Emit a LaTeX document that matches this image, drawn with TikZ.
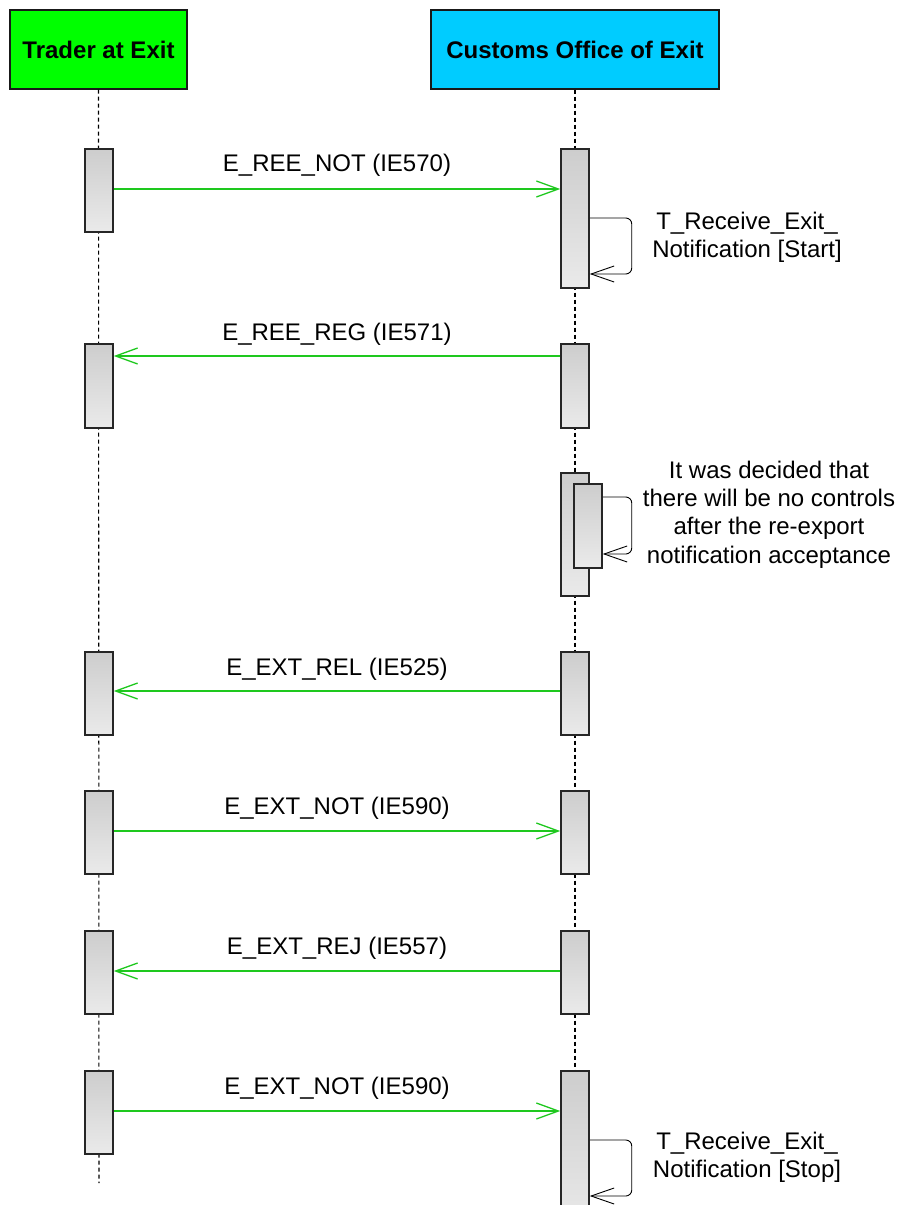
\documentclass[tikz,border=0pt]{standalone}
\usepackage{fontspec}
\setmainfont{Liberation Sans}
\usetikzlibrary{arrows.meta,calc}
\definecolor{msggreen}{RGB}{30,200,30}
\definecolor{hdrgreen}{RGB}{0,255,0}
\definecolor{hdrcyan}{RGB}{0,204,255}
\definecolor{bartop}{RGB}{205,205,205}
\definecolor{barbot}{RGB}{234,234,234}
\begin{document}
\begin{tikzpicture}[x=1pt,y=-1pt,
  hdr/.style={draw=black!90, line width=1.2pt, minimum height=79pt, inner sep=0pt,
    font=\fontsize{24}{28}\selectfont\bfseries},
  actbar/.style={draw=black!85, line width=1.5pt, top color=bartop, bottom color=barbot,
    minimum width=28pt, inner sep=0pt, anchor=north},
  life/.style={draw=black, line width=1.1pt, dash pattern=on 4pt off 3pt},
  msg/.style={draw=msggreen, line width=1.3pt,
    -{Straight Barb[length=22pt,width=16pt,line width=1.3pt]}},
  lbl/.style={font=\fontsize{24}{28}\selectfont, inner sep=0pt},
  note/.style={font=\fontsize{24}{28.3}\selectfont, inner sep=0pt, align=center},
  selfloop/.style={draw=black, line width=0.9pt, rounded corners=6pt,
    -{Straight Barb[length=23pt,width=16pt,line width=0.9pt]}}
]
\useasboundingbox (0,0) rectangle (901,1205);

% headers
\node[hdr, fill=hdrgreen, minimum width=177pt] (trader) at (98.5,49.5) {Trader at Exit};
\node[hdr, fill=hdrcyan, minimum width=288pt] (customs) at (575,49.5) {Customs Office of Exit};

% lifelines
\coordinate (tend) at (99,1183);
\coordinate (cend) at (575,1205);
\draw[life] (trader.south) -- (tend);
\draw[life] (customs.south) -- (cend);

% activation bars
\node[actbar, minimum height=83pt]  (t1) at (99,148) {};
\node[actbar, minimum height=139pt] (c1) at (575,148) {};
\node[actbar, minimum height=84pt]  (t2) at (99,343) {};
\node[actbar, minimum height=84pt]  (c2) at (575,343) {};
\node[actbar, minimum height=123pt] (c3) at (575,472) {};
\node[actbar, minimum height=84pt]  (c3b) at (588,483) {};
\node[actbar, minimum height=83pt]  (t4) at (99,651) {};
\node[actbar, minimum height=83pt]  (c4) at (575,651) {};
\node[actbar, minimum height=83pt]  (t5) at (99,790) {};
\node[actbar, minimum height=83pt]  (c5) at (575,790) {};
\node[actbar, minimum height=83pt]  (t6) at (99,930) {};
\node[actbar, minimum height=83pt]  (c6) at (575,930) {};
\node[actbar, minimum height=83pt]  (t7) at (99,1070) {};
\node[actbar, minimum height=160pt] (c7) at (575,1070) {};

% messages
\draw[msg] ([yshift=-41pt]t1.north east) -- ([yshift=-41pt]c1.north west)
  node[midway, lbl, yshift=23.5pt] {E\_REE\_NOT (IE570)};
\draw[msg] ([yshift=-13pt]c2.north west) -- ([yshift=-13pt]t2.north east)
  node[midway, lbl, yshift=22pt] {E\_REE\_REG (IE571)};
\draw[msg] ([yshift=-40pt]c4.north west) -- ([yshift=-40pt]t4.north east)
  node[midway, lbl, yshift=22pt] {E\_EXT\_REL (IE525)};
\draw[msg] ([yshift=-41pt]t5.north east) -- ([yshift=-41pt]c5.north west)
  node[midway, lbl, yshift=22.5pt] {E\_EXT\_NOT (IE590)};
\draw[msg] ([yshift=-41pt]c6.north west) -- ([yshift=-41pt]t6.north east)
  node[midway, lbl, yshift=22.5pt] {E\_EXT\_REJ (IE557)};
\draw[msg] ([yshift=-41pt]t7.north east) -- ([yshift=-41pt]c7.north west)
  node[midway, lbl, yshift=22.5pt] {E\_EXT\_NOT (IE590)};

% self messages
\draw[selfloop] ([yshift=-70pt]c1.north east) -- ++(42,0) -- ++(0,56) -- ++(-42,0);
\node[note] (n1) at (747,237) {T\_Receive\_Exit\_\\Notification [Start]};

\draw[selfloop] ([yshift=-14pt]c3b.north east) -- ++(29,0) -- ++(0,57) -- ++(-29,0);
\node[note] (n3) at (769,514.5) {It was decided that\\there will be no controls\\after the re-export\\notification acceptance};

\draw[selfloop] ([yshift=-70pt]c7.north east) -- ++(42,0) -- ++(0,56) -- ++(-42,0);
\node[note] (n7) at (747,1157.5) {T\_Receive\_Exit\_\\Notification [Stop]};
\end{tikzpicture}
\end{document}
